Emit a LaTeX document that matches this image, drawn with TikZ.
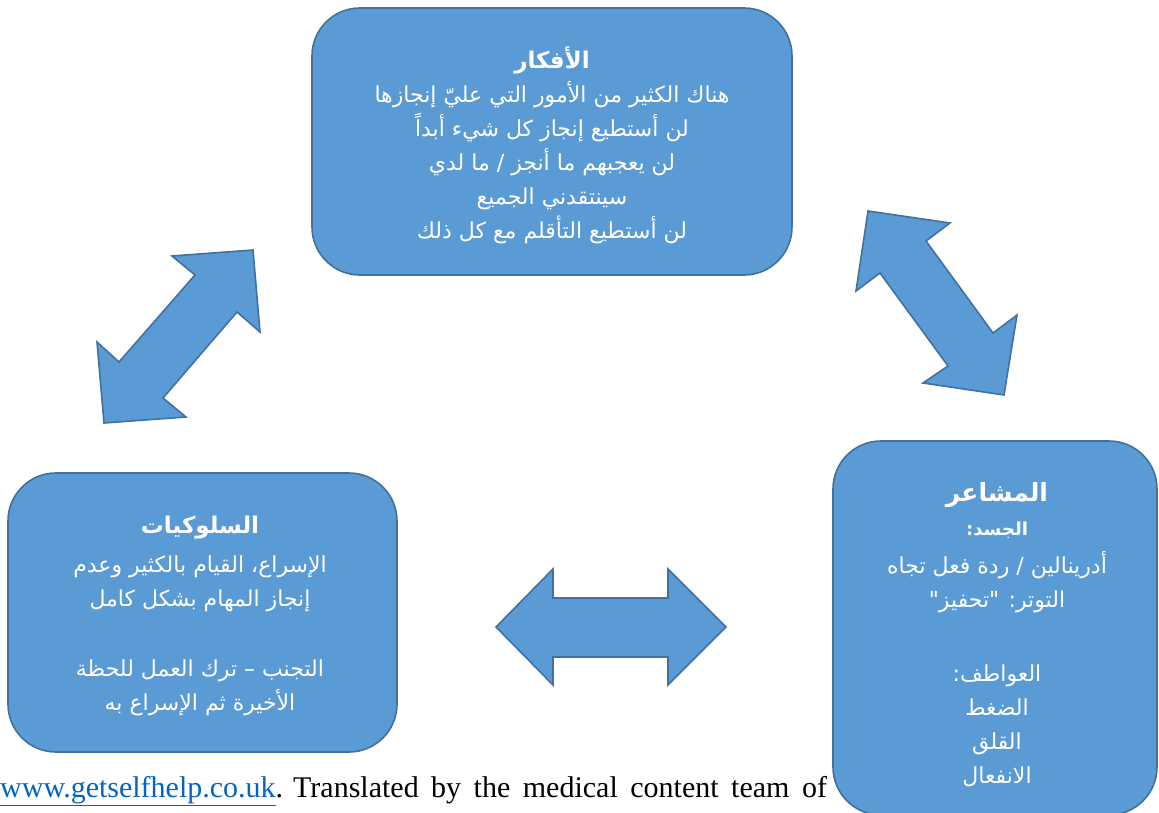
\documentclass[tikz,border=0pt]{standalone}
\usepackage{fontspec}
\setmainfont{Liberation Serif}
\newfontfamily\arabicfont[Script=Arabic]{DejaVu Sans}
\TeXXeTstate=1
\definecolor{boxfill}{HTML}{5B9BD5}
\definecolor{boxline}{HTML}{41719C}
\definecolor{linkblue}{HTML}{0563C1}
\newcommand\myttl{\arabicfont\bfseries\fontsize{23}{34}\selectfont}
\newcommand\mysub{\arabicfont\bfseries\fontsize{18}{34}\selectfont}
\newcommand\mybig{\arabicfont\bfseries\fontsize{25}{34}\selectfont}
\tikzset{
  panel/.style={draw=boxline, fill=boxfill, line width=1.6pt, rounded corners=48pt, inner sep=0pt},
  blockarrow/.style={draw=boxline, fill=boxfill, line width=1.6pt, line join=miter},
  arabtext/.style={text=white, align=center, inner sep=0pt, font=\arabicfont\fontsize{22}{34}\selectfont}
}
\begin{document}
\begin{tikzpicture}[x=1pt,y=-1pt]
\useasboundingbox (0,0) rectangle (1159,813);
% footer
\node[anchor=base west, inner sep=0pt, font=\fontsize{30}{36}\selectfont] (footer) at (0,797)
  {{\color{linkblue}\underline{www.getselfhelp.co.uk}}. Translated\spaceskip=12.5pt plus 0pt\relax{} by the medical content team of};
% boxes
\node[panel, minimum width=480pt, minimum height=267pt] (thoughts) at (552,141.5) {};
\node[panel, minimum width=389pt, minimum height=279pt] (behav) at (202.5,612.5) {};
\node[panel, minimum width=324pt, minimum height=374pt] (feel) at (995,628) {};
% texts
\node[arabtext] (ttext) at (552,145) {%
  {\myttl\beginR الأفكار\endR}\\
  \beginR هناك الكثير من الأمور التي عليّ إنجازها\endR\\
  \beginR لن أستطيع إنجاز كل شيء أبداً\endR\\
  \beginR لن يعجبهم ما أنجز / ما لدي\endR\\
  \beginR سينتقدني الجميع\endR\\
  \beginR لن أستطيع التأقلم مع كل ذلك\endR};
\node[arabtext] (btext) at (200,616) {%
  {\myttl\beginR السلوكيات\endR}\\[5pt]
  \beginR الإسراع، القيام بالكثير وعدم\endR\\
  \beginR إنجاز المهام بشكل كامل\endR\\[36pt]
  \beginR التجنب – ترك العمل للحظة\endR\\
  \beginR الأخيرة ثم الإسراع به\endR};
\node[arabtext] (ftext) at (997,634.5) {%
  {\mybig\beginR المشاعر\endR}\\
  {\mysub\beginR الجسد:\endR}\\[4pt]
  \beginR أدرينالين / ردة فعل تجاه\endR\\
  \beginR التوتر: "تحفيز"\endR\\[40pt]
  \beginR العواطف:\endR\\
  \beginR الضغط\endR\\
  \beginR القلق\endR\\
  \beginR الانفعال\endR};
% block arrows
\draw[blockarrow] (253,250) -- (172,256) -- (195,275) -- (119,362) -- (97,342) -- (104,423)
  -- (186,417) -- (163,398) -- (237,312) -- (260,332) -- cycle;
\draw[blockarrow] (868,211) -- (950,223) -- (926,241) -- (993,333) -- (1017,315) -- (1004,395)
  -- (923,383) -- (948,366) -- (880,273) -- (856,291) -- cycle;
\draw[blockarrow] (496,627) -- (553,569) -- (553,598) -- (668,598) -- (668,569) -- (726,627)
  -- (668,685) -- (668,657) -- (553,657) -- (553,685) -- cycle;
\end{tikzpicture}
\end{document}
